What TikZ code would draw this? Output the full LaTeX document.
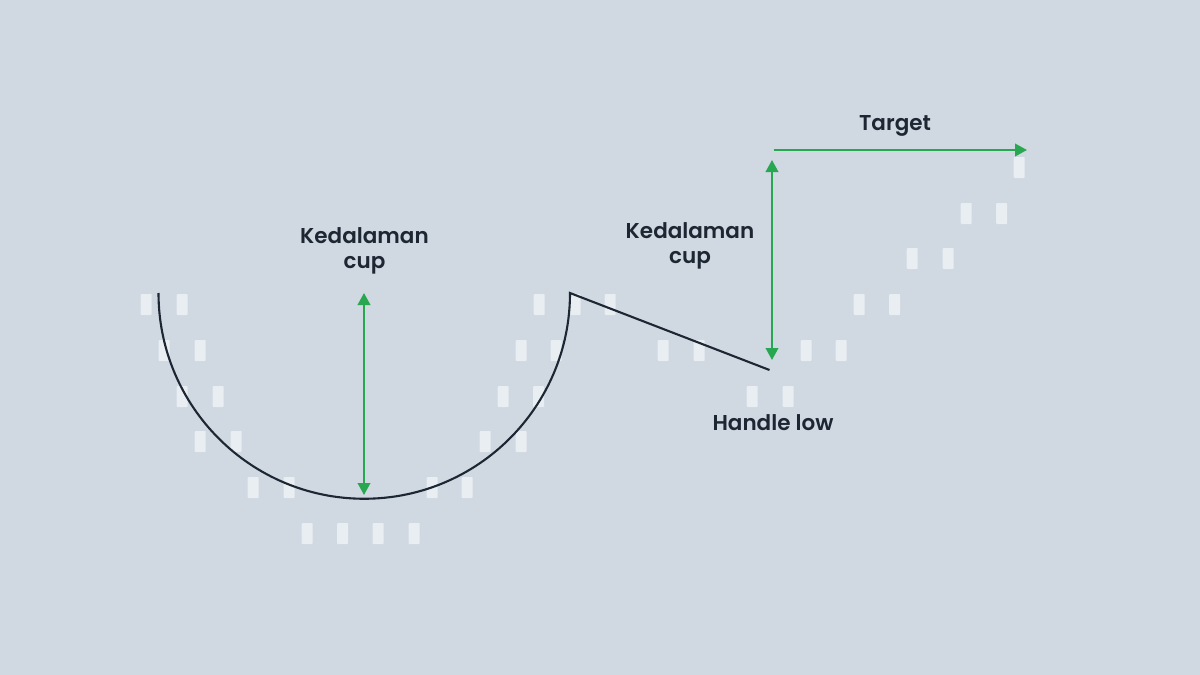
\documentclass[tikz,border=0pt]{standalone}
\usepackage{fontspec}
\setmainfont{Poppins}[BoldFont={Poppins SemiBold}]
\usetikzlibrary{arrows.meta}
\definecolor{bg}{HTML}{D0D8E2}
\definecolor{candlec}{HTML}{E9EEF2}
\definecolor{inkc}{HTML}{1C2733}
\definecolor{greenc}{HTML}{27A74F}
\tikzset{
  candle/.style={fill=candlec,draw=none,rounded corners=0.8pt},
  lbl/.style={text=inkc,font=\fontsize{21.5}{25.5}\selectfont\bfseries,align=center,inner sep=0pt},
  curve/.style={draw=inkc,line width=2.1pt},
  measure/.style={draw=greenc,line width=2.2pt,-{Triangle[length=12pt,width=12.5pt]}},
  measureboth/.style={draw=greenc,line width=2.2pt,{Triangle[length=12pt,width=12.5pt]}-{Triangle[length=12pt,width=12.5pt]},shorten <=0pt,shorten >=0pt},
}
\newcommand{\cand}[2]{\path[candle] (#1-0.3,#2) rectangle ++(11,21);}
\begin{document}
\begin{tikzpicture}[x=1pt,y=-1pt]
\path[fill=bg] (0,0) rectangle (1200,675);
\useasboundingbox (0,0) rectangle (1200,675);
\foreach \x/\y in {141/294,177/294,159/340,195/340,177/386,213/386,195/431,231/431,
  248/477,284/477,302/523,337.5/523,373/523,409/523,427/477,462/477,
  480/431,516/431,498/386,533.5/386,516/340,551/340,534/294,570/294,605/294,
  658/340,694/340,801/340,836/340,747/386,783/386,854/294,889.5/294,
  907/248,943/248,961/203,996.5/203,1014/157}{\cand{\x}{\y}}
\coordinate (cupL) at (158.5,293);
\coordinate (cupR) at (570,293.5);
\coordinate (hl) at (769.5,370);
\coordinate (d1t) at (364,293);
\coordinate (d1b) at (364,495);
\coordinate (d2t) at (772,160);
\coordinate (d2b) at (772,360);
\coordinate (ts) at (773.5,150);
\coordinate (te) at (1027,150);
\draw[curve,line join=miter] (cupL) arc[start angle=180,end angle=0,radius=205.75] -- (hl);
\draw[measureboth] (d1t) -- (d1b);
\draw[measureboth] (d2t) -- (d2b);
\draw[measure] (ts) -- (te);
\node[lbl] (k1) at (364.5,251) {Kedalaman\\cup};
\node[lbl] (k2) at (690,246) {Kedalaman\\cup};
\node[lbl] (hlow) at (773,422.7) {Handle low};
\node[lbl] (tg) at (895,126) {Target};
\end{tikzpicture}
\end{document}
